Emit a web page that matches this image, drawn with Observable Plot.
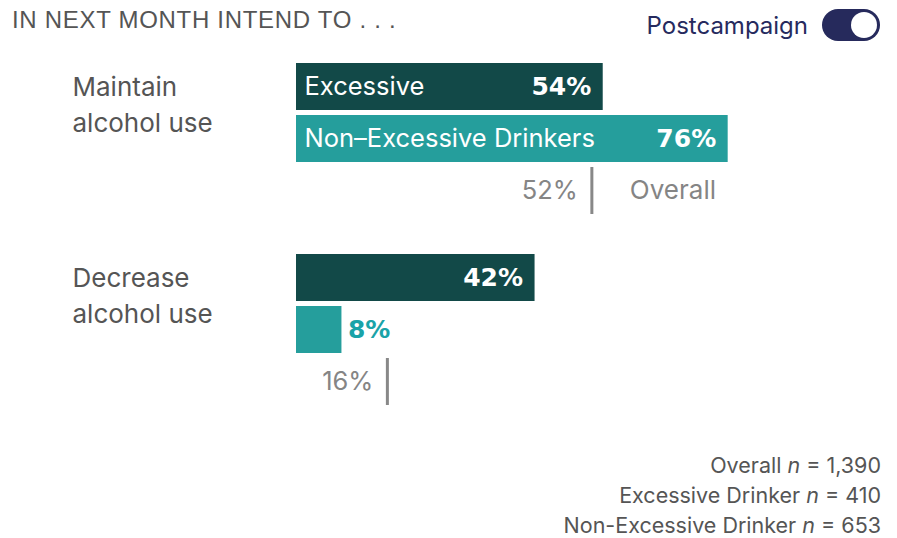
<!DOCTYPE html>
<html>
<head>
<meta charset="utf-8">
<script src="https://cdn.jsdelivr.net/npm/d3@7"></script>
<script src="https://cdn.jsdelivr.net/npm/@observablehq/plot@0.6"></script>
<style>
  html, body { margin: 0; padding: 0; background: #fff; }
  #wrap { position: relative; width: 897px; height: 538px; overflow: hidden; font-family: "Inter", "Noto Sans", sans-serif; }
  #title { position: absolute; left: 12px; top: 6px; font-family: "Liberation Sans", Arial, sans-serif; font-size: 24px; color: #555; letter-spacing: 0.7px; }
  #toggle { position: absolute; right: 17px; top: 9px; display: flex; align-items: center; gap: 14px; font-size: 24px; color: #262a5e; }
  #pill { width: 58px; height: 32px; border-radius: 16px; background: #262a5c; position: relative; }
  #knob { position: absolute; right: 3px; top: 3px; width: 26px; height: 26px; border-radius: 50%; background: #fff; }
  #plot { position: absolute; left: 0; top: 0; }
  #notes { position: absolute; right: 16px; top: 450px; text-align: right; font-size: 21.5px; line-height: 30px; color: #555; }
</style>
</head>
<body>
<div id="wrap">
  <div id="plot"></div>
  <div id="title">IN NEXT MONTH INTEND TO . . .</div>
  <div id="toggle"><span>Postcampaign</span><div id="pill"><div id="knob"></div></div></div>
  <div id="notes"></div>
</div>
<script>
// ---- data ----
const groups = ["Maintain alcohol use", "Decrease alcohol use"];
const segments = ["Excessive", "Non–Excessive Drinkers"];
const excessive = [54, 42];
const nonExcessive = [76, 8];
const overall = [52, 16];
const sampleLabels = ["Overall", "Excessive Drinker", "Non-Excessive Drinker"];
const sampleSizes = ["1,390", "410", "653"];

// ---- tables ----
const rows = [];
groups.forEach((g, i) => {
  rows.push({group: g, gi: i, segment: segments[0], value: excessive[i]});
  rows.push({group: g, gi: i, segment: segments[1], value: nonExcessive[i]});
});
const overallRows = groups.map((g, i) => ({group: g, gi: i, segment: "Overall", value: overall[i]}));

const dark = "#124948", teal = "#259e9c";

const chart = Plot.plot({
  width: 897,
  height: 417,
  marginLeft: 296,
  marginRight: 33,
  marginTop: 62,
  marginBottom: 10,
  x: {domain: [0, 100], axis: null},
  y: {domain: [...segments, "Overall"], paddingInner: 0.094, paddingOuter: 0, axis: null},
  fy: {domain: groups, paddingInner: 0.194, paddingOuter: 0, axis: null},
  color: {domain: segments, range: [dark, teal]},
  style: {fontFamily: "Inter, 'Noto Sans', sans-serif", background: "transparent"},
  marks: [
    Plot.barX(rows, {x: "value", y: "segment", fy: "group", fill: "segment"}),
    // category names inside bars (first group only)
    Plot.text(rows.filter(d => d.gi === 0), {
      x: 0, y: "segment", fy: "group", text: "segment",
      textAnchor: "start", dx: 8, fill: "white", fontSize: 25.5
    }),
    // values inside long bars
    Plot.text(rows.filter(d => d.value >= 15), {
      x: "value", y: "segment", fy: "group", text: d => d.value + "%",
      textAnchor: "end", dx: -12, fill: "white", fontSize: 25, fontWeight: "bold",
      fontFamily: "'DejaVu Sans', sans-serif"
    }),
    // values outside short bars
    Plot.text(rows.filter(d => d.value < 15), {
      x: "value", y: "segment", fy: "group", text: d => d.value + "%",
      textAnchor: "start", dx: 6, fill: "#1aa3a8", fontSize: 25, fontWeight: "bold",
      fontFamily: "'DejaVu Sans', sans-serif"
    }),
    // overall markers
    Plot.tickX(overallRows, {x: "value", y: "segment", fy: "group", stroke: "#888", strokeWidth: 3}),
    Plot.text(overallRows, {
      x: "value", y: "segment", fy: "group", text: d => d.value + "%",
      textAnchor: "end", dx: -14, fill: "#858585", fontSize: 25.5
    }),
    Plot.text(overallRows.filter(d => d.gi === 0), {
      x: "value", y: "segment", fy: "group", text: d => d.segment,
      textAnchor: "start", dx: 38, fill: "#858585", fontSize: 26
    }),
    // group labels on the left
    Plot.text(groups, {
      fy: d => d, text: d => d.replace(" alcohol", "\nalcohol"),
      frameAnchor: "top-left", lineAnchor: "top", textAnchor: "start",
      dx: -224, dy: 8, lineHeight: 1.385, fontSize: 26, fill: "#555"
    })
  ]
});
document.getElementById("plot").appendChild(chart);

document.getElementById("notes").innerHTML = sampleLabels
  .map((l, i) => `<div>${l} <i>n</i> = ${sampleSizes[i]}</div>`).join("");
</script>
</body>
</html>
